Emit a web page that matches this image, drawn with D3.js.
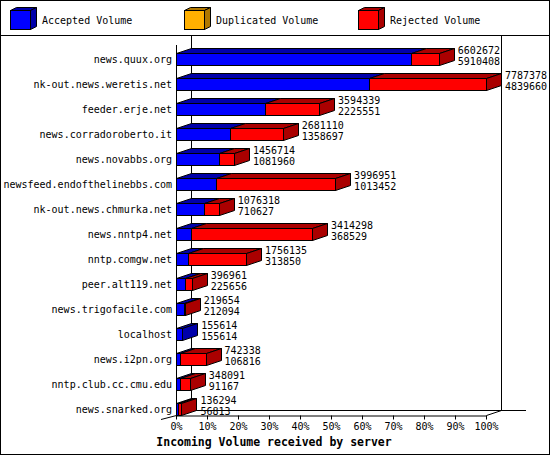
<!DOCTYPE html>
<html lang="en">
<head>
<meta charset="UTF-8">
<title>Incoming Volume received by server</title>
<script src="https://d3js.org/d3.v7.min.js"></script>
<style>
  body { margin: 0; background: #fff; }
  text { font-family: "DejaVu Sans Mono", monospace; }
</style>
</head>
<body>
<svg id="chart" width="550" height="455"></svg>
<script>
(function () {
  'use strict';

  // servers, top to bottom
  const servers = ["news.quux.org", "nk-out.news.weretis.net", "feeder.erje.net",
    "news.corradoroberto.it", "news.novabbs.org", "newsfeed.endofthelinebbs.com",
    "nk-out.news.chmurka.net", "news.nntp4.net", "nntp.comgw.net", "peer.alt119.net",
    "news.trigofacile.com", "localhost", "news.i2pn.org", "nntp.club.cc.cmu.edu",
    "news.snarked.org"];
  const totalVolume = [6602672, 7787378, 3594339, 2681110, 1456714, 3996951, 1076318,
    3414298, 1756135, 396961, 219654, 155614, 742338, 348091, 136294];
  const acceptedVolume = [5910408, 4839660, 2225551, 1358697, 1081960, 1013452, 710627,
    368529, 313850, 225656, 212094, 155614, 106816, 91167, 56813];
  const duplicatedVolume = [0, 0, 0, 0, 0, 0, 0, 0, 0, 0, 0, 0, 0, 0, 0];
  const seriesNames = ["Accepted Volume", "Duplicated Volume", "Rejected Volume"];
  const tickValues = [0, 0.1, 0.2, 0.3, 0.4, 0.5, 0.6, 0.7, 0.8, 0.9, 1];
  const axisTitle = "Incoming Volume received by server";

  const W = 550, H = 455;
  const front = { left: 176, right: 486, top: 45, bottom: 415 };
  const depth = { dx: 15, dy: -5 };
  const halfBar = 6;

  // colours: front face, top/side face
  const colors = [
    { face: "#0000ff", dark: "#0000aa" },
    { face: "#ffb000", dark: "#b07800" },
    { face: "#ff0000", dark: "#aa0000" }
  ];

  const rows = servers.map((name, i) => {
    const acc = acceptedVolume[i];
    const dup = duplicatedVolume[i];
    const rej = totalVolume[i] - acc - dup;
    return { name, total: totalVolume[i], accepted: acc, parts: [acc, dup, rej] };
  });

  const x = d3.scaleLinear()
      .domain([0, d3.max(totalVolume)])
      .range([front.left, front.right]);
  const xPct = d3.scaleLinear().domain([0, 1]).range([front.left, front.right]);
  const y = d3.scalePoint()
      .domain(servers)
      .range([59, 409]);

  const svg = d3.select("#chart");

  svg.append("rect")
      .attr("x", 0.5).attr("y", 0.5)
      .attr("width", W - 1).attr("height", H - 1)
      .attr("fill", "#fff").attr("stroke", "#000");

  // legend
  svg.append("line")
      .attr("x1", 0).attr("x2", W).attr("y1", 35.5).attr("y2", 35.5)
      .attr("stroke", "#000");

  const legendX = [10, 184, 358];
  const lg = svg.append("g").selectAll("g")
      .data(seriesNames)
      .join("g")
      .attr("transform", (d, i) => `translate(${legendX[i]},10)`);
  lg.append("path")
      .attr("d", "M0.5,0.5 L6.5,-2.5 L26.5,-2.5 L20.5,0.5 Z")
      .attr("fill", (d, i) => colors[i].dark).attr("stroke", "#000");
  lg.append("path")
      .attr("d", "M20.5,0.5 L26.5,-2.5 L26.5,16.5 L20.5,19.5 Z")
      .attr("fill", (d, i) => colors[i].dark).attr("stroke", "#000");
  lg.append("rect")
      .attr("x", 0.5).attr("y", 0.5).attr("width", 20).attr("height", 19)
      .attr("fill", (d, i) => colors[i].face).attr("stroke", "#000");
  lg.append("text")
      .attr("x", 32).attr("y", 10)
      .attr("dominant-baseline", "central")
      .style("font-size", "10px")
      .text(d => d);

  // 3d frame
  const frame = svg.append("g").attr("stroke", "#000").attr("fill", "none");
  const bl = front.left + depth.dx, br = front.right + depth.dx, bb = front.bottom + depth.dy;
  frame.append("line").attr("x1", bl + 0.5).attr("x2", bl + 0.5).attr("y1", 36).attr("y2", bb);
  frame.append("line").attr("x1", br + 0.5).attr("x2", br + 0.5).attr("y1", 36).attr("y2", bb);
  frame.append("line").attr("x1", bl).attr("x2", 526).attr("y1", bb + 0.5).attr("y2", bb + 0.5);
  frame.append("line").attr("x1", front.left + 0.5).attr("x2", front.left + 0.5)
      .attr("y1", front.top).attr("y2", front.bottom);
  frame.append("line").attr("x1", front.left - 15).attr("y1", front.bottom + 4.5)
      .attr("x2", front.left + 0.5).attr("y2", front.bottom + 0.5);
  frame.append("line").attr("x1", front.right + 0.5).attr("y1", front.bottom + 0.5)
      .attr("x2", br + 0.5).attr("y2", bb + 0.5);

  // bars
  const barG = svg.append("g").selectAll("g")
      .data(rows)
      .join("g");

  barG.each(function (d) {
    const g = d3.select(this);
    const c = y(d.name);
    const top = Math.round(c - halfBar) + 0.5, bot = Math.round(c + halfBar) + 0.5;
    let start = 0;
    const segs = [];
    d.parts.forEach((v, k) => {
      if (v > 0) segs.push({ a: start, b: start + v, k });
      start += v;
    });
    segs.forEach((s, j) => {
      const a = Math.round(x(s.a)) + 0.5, b = Math.round(x(s.b)) + 0.5;
      const col = colors[s.k];
      g.append("path")
          .attr("d", `M${a},${top} L${a + depth.dx},${top + depth.dy} L${b + depth.dx},${top + depth.dy} L${b},${top} Z`)
          .attr("fill", col.dark).attr("stroke", "#000");
      g.append("rect")
          .attr("x", a).attr("y", top).attr("width", b - a).attr("height", bot - top)
          .attr("fill", col.face).attr("stroke", "#000");
      if (j === segs.length - 1) {
        g.append("path")
            .attr("d", `M${b},${top} L${b + depth.dx},${top + depth.dy} L${b + depth.dx},${bot + depth.dy} L${b},${bot} Z`)
            .attr("fill", col.dark).attr("stroke", "#000");
      }
    });
  });

  // value labels
  const vl = svg.append("g").style("font-size", "10px");
  vl.selectAll("text.tot")
      .data(rows)
      .join("text")
      .attr("class", "tot")
      .attr("x", d => x(d.total) + depth.dx + 4)
      .attr("y", d => y(d.name) - 9)
      .attr("dominant-baseline", "central")
      .text(d => d.total);
  vl.selectAll("text.acc")
      .data(rows)
      .join("text")
      .attr("class", "acc")
      .attr("x", d => x(d.total) + depth.dx + 4)
      .attr("y", d => y(d.name) + 2)
      .attr("dominant-baseline", "central")
      .text(d => d.accepted);

  // server names
  svg.append("g").style("font-size", "10px")
      .selectAll("text")
      .data(servers)
      .join("text")
      .attr("x", 172)
      .attr("y", d => y(d))
      .attr("text-anchor", "end")
      .attr("dominant-baseline", "central")
      .text(d => d);

  // bottom axis
  const axis = svg.append("g")
      .attr("transform", `translate(0,${front.bottom + 0.5})`)
      .call(d3.axisBottom(xPct).tickValues(tickValues).tickFormat(d3.format(".0%"))
        .tickSize(4).tickSizeOuter(0).tickPadding(3));
  axis.select(".domain").attr("stroke", "#000");
  axis.selectAll(".tick line").attr("stroke", "#000");
  axis.selectAll(".tick text")
      .attr("fill", "#000")
      .style("font-family", "DejaVu Sans Mono, monospace")
      .style("font-size", "10px");

  svg.append("text")
      .attr("x", 274).attr("y", 442)
      .attr("text-anchor", "middle")
      .attr("dominant-baseline", "central")
      .style("font-size", "11.5px")
      .style("font-weight", "bold")
      .text(axisTitle);
}());
</script>
</body>
</html>
